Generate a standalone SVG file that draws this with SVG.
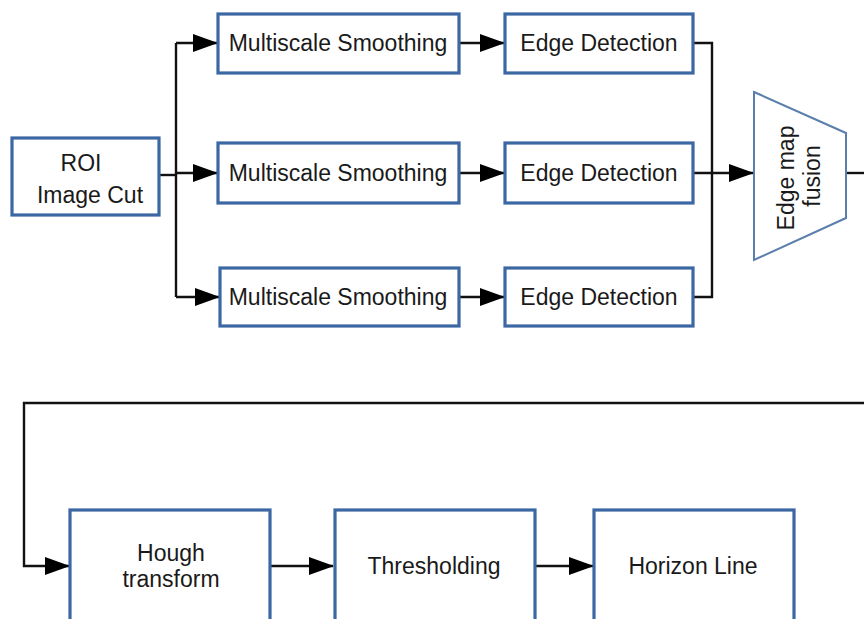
<svg xmlns="http://www.w3.org/2000/svg" width="864" height="619" viewBox="0 0 864 619">
  <style>
    .box { fill: #ffffff; stroke: #3b68a3; stroke-width: 3.2; }
    .trap { fill: #ffffff; stroke: #5b7fac; stroke-width: 2; }
    .lbl { font-family: "Liberation Sans", Arial, sans-serif; font-size: 23px; fill: #1a1a1a; text-anchor: middle; }
    .wire { fill: none; stroke: #111111; stroke-width: 2.4; }
    .arrow { marker-end: url(#head); }
  </style>
  <defs>
    <marker id="head" markerUnits="userSpaceOnUse" markerWidth="25" markerHeight="18" refX="24" refY="9" orient="auto">
      <path d="M0,0 L25,9 L0,18 Z" fill="#000000"/>
    </marker>
  </defs>
  <rect width="864" height="619" fill="#ffffff"/>

  <!-- connectors -->
  <g id="connectors">
    <path class="wire" d="M159,175 H176"/>
    <path class="wire" d="M176,43 V297"/>
    <path class="wire arrow" d="M176,43 H217"/>
    <path class="wire arrow" d="M176,173 H217"/>
    <path class="wire arrow" d="M176,297 H219"/>
    <path class="wire arrow" d="M459,43 H504"/>
    <path class="wire arrow" d="M459,173 H504"/>
    <path class="wire arrow" d="M459,297 H504"/>
    <path class="wire" d="M693,43 H712 V297 H693"/>
    <path class="wire arrow" d="M693,173 H753"/>
    <path class="wire" d="M846,173 H866"/>
    <path class="wire arrow" d="M866,403 H24 V566 H69"/>
    <path class="wire arrow" d="M270,566 H333"/>
    <path class="wire arrow" d="M535,566 H593"/>
  </g>

  <!-- input -->
  <g id="roi">
    <rect class="box" x="12" y="138" width="147" height="77"/>
    <text class="lbl" x="81" y="171">ROI</text>
    <text class="lbl" x="90" y="203">Image Cut</text>
  </g>

  <!-- smoothing branches -->
  <g id="smooth1">
    <rect class="box" x="218" y="14" width="241" height="59"/>
    <text class="lbl" x="338" y="51">Multiscale Smoothing</text>
  </g>
  <g id="smooth2">
    <rect class="box" x="218" y="143" width="241" height="60"/>
    <text class="lbl" x="338" y="181">Multiscale Smoothing</text>
  </g>
  <g id="smooth3">
    <rect class="box" x="220" y="268" width="239" height="58"/>
    <text class="lbl" x="338" y="305">Multiscale Smoothing</text>
  </g>

  <!-- edge detection branches -->
  <g id="edge1">
    <rect class="box" x="505" y="14" width="188" height="59"/>
    <text class="lbl" x="599" y="51">Edge Detection</text>
  </g>
  <g id="edge2">
    <rect class="box" x="505" y="143" width="188" height="60"/>
    <text class="lbl" x="599" y="181">Edge Detection</text>
  </g>
  <g id="edge3">
    <rect class="box" x="505" y="268" width="188" height="58"/>
    <text class="lbl" x="599" y="305">Edge Detection</text>
  </g>

  <!-- fusion -->
  <g id="fusion">
    <polygon class="trap" points="754,92 846,133 846,218 754,260"/>
    <text class="lbl" transform="translate(794,178) rotate(-90)">Edge map</text>
    <text class="lbl" transform="translate(820,176) rotate(-90)">fusion</text>
  </g>

  <!-- second stage -->
  <g id="hough">
    <rect class="box" x="70" y="510" width="200" height="130"/>
    <text class="lbl" x="171" y="561">Hough</text>
    <text class="lbl" x="171" y="587">transform</text>
  </g>
  <g id="threshold">
    <rect class="box" x="335" y="510" width="200" height="130"/>
    <text class="lbl" x="434" y="574">Thresholding</text>
  </g>
  <g id="horizon">
    <rect class="box" x="594" y="510" width="200" height="130"/>
    <text class="lbl" x="693" y="574">Horizon Line</text>
  </g>
</svg>
